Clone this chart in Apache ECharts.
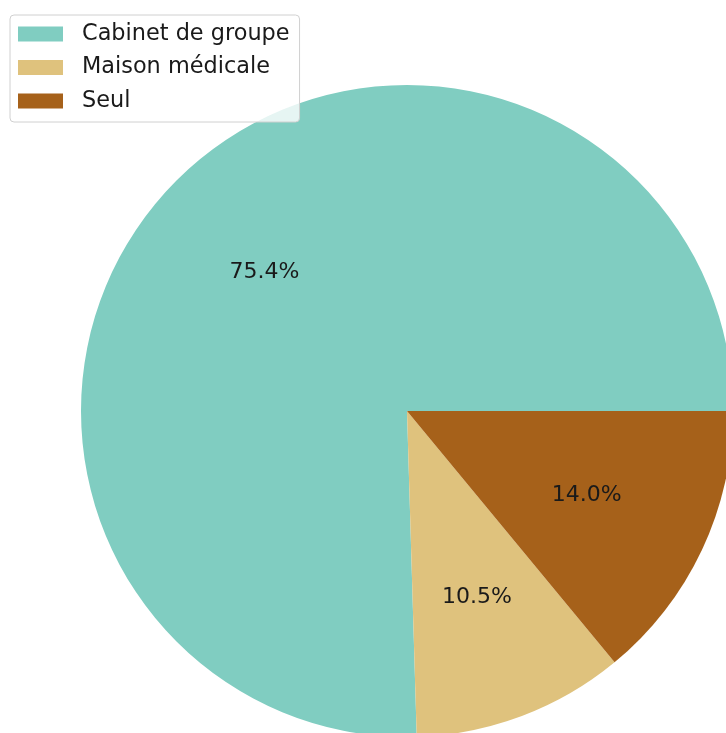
<!DOCTYPE html>
<html>
<head>
<meta charset="utf-8">
<script src="https://cdn.jsdelivr.net/npm/echarts@6/dist/echarts.min.js"></script>
<style>html,body{margin:0;padding:0;background:#fff;}#c{width:726px;height:733px;}</style>
</head>
<body>
<div id="c"></div>
<script>
const categories = ['Cabinet de groupe', 'Maison médicale', 'Seul'];
const values = [75.4, 10.5, 14.0];
const colors = ['#80cdc1', '#dfc27d', '#a6611a'];

const chart = echarts.init(document.getElementById('c'), null, {renderer: 'canvas'});
const R = 326;
const data = categories.map((n, i) => ({name: n, value: values[i], itemStyle: {color: colors[i]}}));
const labelData = categories.map((n, i) => ({name: n, value: values[i]}));
chart.setOption({
  animation: false,
  legend: {
    orient: 'vertical',
    left: 10, top: 15,
    padding: [7, 10, 9, 8],
    itemWidth: 45, itemHeight: 15, itemGap: 9.5,
    borderColor: '#d0d0d0', borderWidth: 1, borderRadius: 4,
    backgroundColor: 'rgba(255,255,255,0.8)',
    icon: 'rect',
    data: categories,
    textStyle: {fontFamily: 'DejaVu Sans', fontSize: 22.4, color: '#1a1a1a', padding: [0, 0, 0, 14], lineHeight: 24},
    selectedMode: false
  },
  series: [{
    type: 'pie',
    center: [407, 411],
    radius: [0, R],
    startAngle: 0,
    clockwise: false,
    silent: true,
    label: {show: false},
    labelLine: {show: false},
    emphasis: {disabled: true},
    data: data
  }, {
    type: 'pie',
    center: [407, 411],
    radius: [R * 0.2, R],
    startAngle: 0,
    clockwise: false,
    silent: true,
    itemStyle: {color: 'rgba(0,0,0,0)'},
    label: {
      show: true, position: 'inside',
      fontFamily: 'DejaVu Sans', fontSize: 22, color: '#1a1a1a',
      formatter: p => p.value.toFixed(1) + '%'
    },
    labelLine: {show: false},
    emphasis: {disabled: true},
    legendHoverLink: false,
    data: labelData
  }]
});
</script>
</body>
</html>
